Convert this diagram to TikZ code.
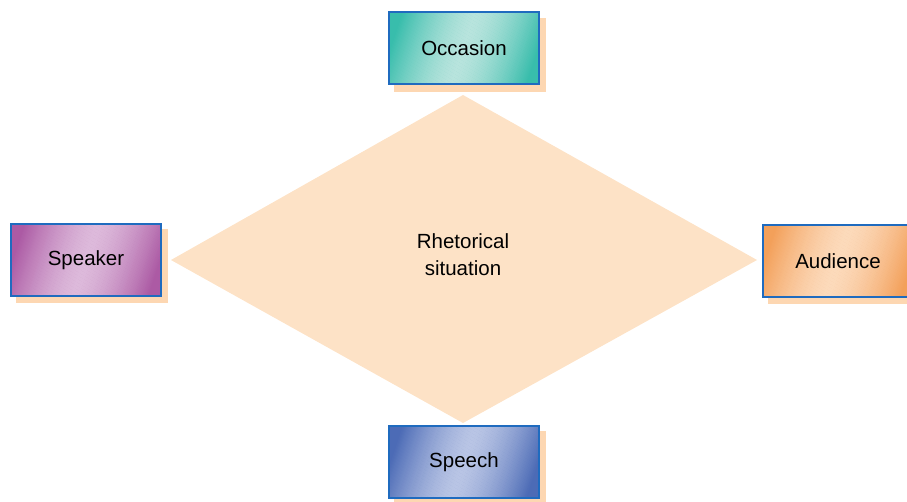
\documentclass[tikz,border=0pt]{standalone}
\usepackage{fontspec}
\setmainfont{Liberation Sans}
\definecolor{peach}{HTML}{FDE2C6}
\definecolor{shadowc}{HTML}{FDD7B2}
\definecolor{edgeblue}{HTML}{1F6BBF}
\definecolor{occD}{HTML}{38BDAC}
\definecolor{occL}{HTML}{B8E4DD}
\definecolor{spkD}{HTML}{AC5AA4}
\definecolor{spkL}{HTML}{DDBADB}
\definecolor{audD}{HTML}{F3A05A}
\definecolor{audL}{HTML}{FCDABB}
\definecolor{spcD}{HTML}{4C6BB6}
\definecolor{spcL}{HTML}{B9C5E5}
\tikzset{
  box/.style={draw=edgeblue, line width=2pt, minimum width=150pt, minimum height=72pt,
    inner sep=0pt, font=\fontsize{20.5}{24}\selectfont, text=black},
  shadowbox/.style={fill=shadowc, draw=none, minimum width=152pt, minimum height=74pt},
}
% #1 centre x, #2 centre y, #3 dark, #4 light
\newcommand\mygradfill[4]{%
  \begin{scope}
    \clip (#1-75,#2-36) rectangle (#1+75,#2+36);
    \fill[#3] (#1-75,#2-36) rectangle (#1+75,#2+36);
    \foreach \i in {-80,...,80} {
      \pgfmathsetmacro\myp{max(0,100*(1-(abs(\i)/62)^1.5))}
      \fill[#4!\myp!#3] (#1+\i*1.2-12,#2+36) -- (#1+\i*1.2+12,#2-36)
        -- (#1+\i*1.2+13.6,#2-36) -- (#1+\i*1.2-10.4,#2+36) -- cycle;
    }
  \end{scope}}
\begin{document}
\begin{tikzpicture}[x=1pt,y=-1pt]
\useasboundingbox (0,0) rectangle (907,502);
% diamond
\fill[peach] (463,95) -- (757,260) -- (463,423) -- (171,260) -- cycle;
\node[font=\fontsize{20.5}{27}\selectfont, align=center] (rs) at (463,255) {Rhetorical\\situation};
% shadows
\node[shadowbox] (occS) at (470,55) {};
\node[shadowbox] (spkS) at (92,266) {};
\node[shadowbox] (audS) at (844,267) {};
\node[shadowbox] (spcS) at (470,468) {};
% gradients
\mygradfill{464}{48.5}{occD}{occL}
\mygradfill{86}{260}{spkD}{spkL}
\mygradfill{838}{261}{audD}{audL}
\mygradfill{464}{462}{spcD}{spcL}
% boxes
\node[box] (occ) at (464,48.5) {Occasion};
\node[box] (spk) at (86,260) {Speaker};
\node[box] (aud) at (838,261) {Audience};
\node[box] (spc) at (464,462) {Speech};
\end{tikzpicture}
\end{document}
